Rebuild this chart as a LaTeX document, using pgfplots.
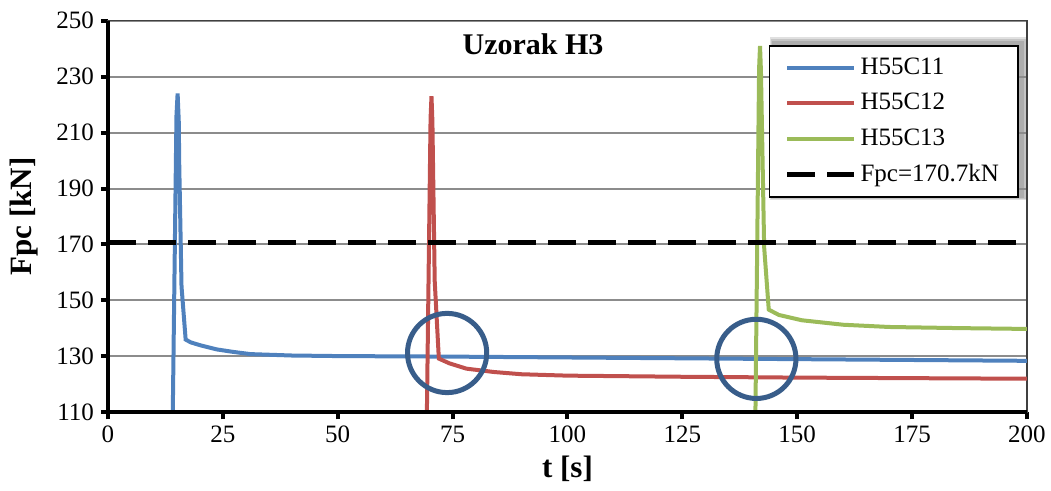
\documentclass[border=0pt]{standalone}
\usepackage{fontspec}
\setmainfont{Liberation Serif}
\usepackage{pgfplots}
\pgfplotsset{compat=1.18}
\usetikzlibrary{backgrounds}
\definecolor{c1}{HTML}{4F81BD}
\definecolor{c2}{HTML}{C0504D}
\definecolor{c3}{HTML}{9BBB59}
\definecolor{circ}{HTML}{385D8A}
\definecolor{gridc}{HTML}{8C8C8C}
\begin{document}
\begin{tikzpicture}
\begin{axis}[
  name=ax,
  scale only axis, width=459.5pt, height=195.8pt,
  xmin=0, xmax=200, ymin=110, ymax=250,
  xtick={0,25,...,200}, ytick={110,130,...,250},
  ymajorgrids, grid style={gridc, line width=1pt},
  axis line style={draw=black!75, line width=0.8pt},
  tick align=outside, major tick length=3.5pt, tick style={black, line width=2pt},
  xtick pos=left, ytick pos=left,
  ticklabel style={font=\fontsize{12.5}{14}\selectfont},
  /pgf/number format/assume math mode=true,
  xlabel={t [s]}, ylabel={Fpc [kN]},
  label style={font=\fontsize{15.5}{18}\selectfont\bfseries},
  xlabel style={at={(axis description cs:0.5,-0.1456)}, anchor=center},
  ylabel style={at={(axis description cs:-0.0914,0.5)}, anchor=center},
  legend style={name=leg, at={(rel axis cs:0.991,0.938)}, anchor=north east, draw=black, line width=0.8pt, fill=white,
    font=\fontsize{12.5}{14}\selectfont,
    row sep=4pt, inner xsep=7.5pt, inner ysep=4pt},
  legend cell align=left,
  legend image code/.code={\draw[#1] (0pt,0pt) -- (33.5pt,0pt);},
]
\addplot[c1, line width=2pt] coordinates {
 (14.1,110) (14.9,216) (15.15,224) (15.4,214) (15.5,199) (16.0,155) (16.9,136)
 (18,135) (20,134) (23.6,132.5) (27.2,131.6) (31,130.8) (40,130.3) (50,130.1)
 (75,129.9) (100,129.6) (125,129.3) (150,129.0) (175,128.7) (200,128.4)};
\addplot[c2, line width=2pt] coordinates {
 (69.4,110) (70.2,215) (70.4,223) (70.6,214) (71.1,157) (72.0,129.2)
 (74.3,127.5) (78,125.6) (84,124.4) (90,123.6) (100,123.1) (125,122.7)
 (150,122.4) (175,122.2) (200,122.0)};
\addplot[c3, line width=2pt] coordinates {
 (140.9,110) (141.7,233) (141.9,241) (142.1,232) (142.8,169) (143.8,146.7)
 (146,144.8) (151,142.9) (160,141.3) (170,140.5) (185,140.1) (200,139.8)};
\addplot[black, line width=2.5pt, dash pattern=on 14pt off 6pt] coordinates {(0,170.7) (200,170.7)};
\legend{H55C11,H55C12,H55C13,Fpc=170.7kN}
\node[font=\fontsize{15}{18}\selectfont\bfseries] at (axis cs:92.5,241.5) {Uzorak H3};
\draw[circ, line width=2.5pt] (axis cs:73.8,131.2) circle[radius=19.8pt];
\draw[circ, line width=2.5pt] (axis cs:141.1,129.1) circle[radius=19.8pt];
\end{axis}
\begin{scope}[on background layer]
  \fill[black, opacity=0.12] ([xshift=0.5pt,yshift=-1pt]leg.south west) rectangle ([xshift=4.5pt,yshift=4pt]leg.north east);
  \fill[black, opacity=0.12] ([xshift=1pt,yshift=-0.5pt]leg.south west) rectangle ([xshift=3.5pt,yshift=3pt]leg.north east);
  \fill[black, opacity=0.12] ([xshift=1.5pt,yshift=0pt]leg.south west) rectangle ([xshift=2.5pt,yshift=2pt]leg.north east);
\end{scope}
\draw[black, line width=2pt] (ax.north west) -- (ax.south west) -- (ax.south east);
\pgfresetboundingbox
\path (-54pt,-39.35pt) rectangle (471.5pt,206.15pt);
\end{tikzpicture}
\end{document}
